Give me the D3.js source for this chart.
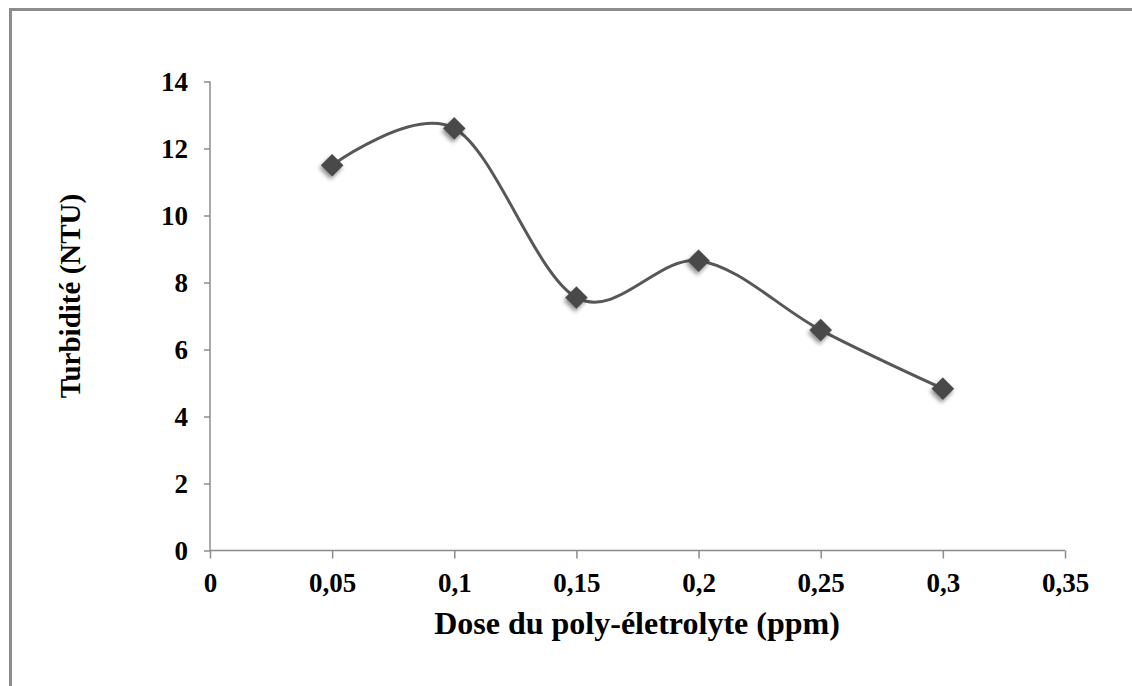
<!DOCTYPE html>
<html>
<head>
<meta charset="utf-8">
<script src="https://cdn.jsdelivr.net/npm/d3@7"></script>
<style>
  body { margin: 0; background: #fff; }
  svg { display: block; }
</style>
</head>
<body>
<svg id="chart" width="1132" height="686"></svg>
<script>
// -------- DATA --------
const doses = [0.05, 0.1, 0.15, 0.2, 0.25, 0.3];
const turbidity = [11.5, 12.6, 7.55, 8.65, 6.58, 4.83];
const xTicks = [0, 0.05, 0.1, 0.15, 0.2, 0.25, 0.3, 0.35];
const yTicks = [0, 2, 4, 6, 8, 10, 12, 14];
const xTitle = "Dose du poly-életrolyte (ppm)";
const yTitle = "Turbidité (NTU)";

const svg = d3.select("#chart");
const font = "'Liberation Serif', 'Times New Roman', serif";

// frame round the chart area (right and bottom run off the picture)
svg.append("rect")
  .attr("x", 10.5).attr("y", 9.5)
  .attr("width", 1140).attr("height", 700)
  .attr("fill", "none")
  .attr("stroke", "#8c8c8c")
  .attr("stroke-width", 3);

const x = d3.scaleLinear().domain([0, 0.35]).range([210, 1065]);
const y = d3.scaleLinear().domain([0, 14]).range([550.5, 81.5]);

const fmt = d => String(d).replace(".", ",");

// drop shadow for the markers
const defs = svg.append("defs");
defs.append("filter")
  .attr("id", "shadow")
  .attr("x", "-50%").attr("y", "-50%")
  .attr("width", "200%").attr("height", "200%")
  .append("feDropShadow")
  .attr("dx", 1).attr("dy", 3)
  .attr("stdDeviation", 2)
  .attr("flood-color", "#000")
  .attr("flood-opacity", 0.45);

// -------- AXES --------
const yAxis = svg.append("g")
  .attr("transform", `translate(${x(0)},0)`)
  .call(d3.axisLeft(y).tickValues(yTicks).tickSize(6).tickPadding(16).tickFormat(fmt));

const xAxis = svg.append("g")
  .attr("transform", `translate(0,${y(0)})`)
  .call(d3.axisBottom(x).tickValues(xTicks).tickSize(8).tickPadding(14).tickFormat(fmt));

[xAxis, yAxis].forEach(g => {
  g.select(".domain").attr("stroke", "#8c8c8c").attr("stroke-width", 1.5);
  g.selectAll(".tick line").attr("stroke", "#8c8c8c").attr("stroke-width", 1.5);
  g.selectAll(".tick text")
    .attr("fill", "#000")
    .attr("font-family", font)
    .attr("font-weight", "bold")
    .attr("font-size", 27);
});
xAxis.select(".domain").attr("d", `M${x(0)},0H${x(0.35)}`);
yAxis.select(".domain").attr("d", `M0,${y(0)}V${y(14)}`);

// -------- TITLES --------
svg.append("text")
  .attr("x", 637).attr("y", 634)
  .attr("text-anchor", "middle")
  .attr("font-family", font)
  .attr("font-weight", "bold")
  .attr("font-size", 32)
  .text(xTitle);

svg.append("text")
  .attr("transform", "translate(80,296) rotate(-90)")
  .attr("text-anchor", "middle")
  .attr("font-family", font)
  .attr("font-weight", "bold")
  .attr("font-size", 29)
  .text(yTitle);

// -------- SERIES --------
const points = doses.map((d, i) => [x(d), y(turbidity[i])]);

svg.append("path")
  .datum(points)
  .attr("fill", "none")
  .attr("stroke", "#575757")
  .attr("stroke-width", 3)
  .attr("d", d3.line().curve(d3.curveCardinal.tension(0)));

svg.append("g")
  .selectAll("path")
  .data(points)
  .join("path")
  .attr("transform", d => `translate(${d[0]},${d[1]}) rotate(45)`)
  .attr("d", d3.symbol(d3.symbolSquare, 256))
  .attr("fill", "#4a4a4a")
  .attr("filter", "url(#shadow)");
</script>
</body>
</html>
